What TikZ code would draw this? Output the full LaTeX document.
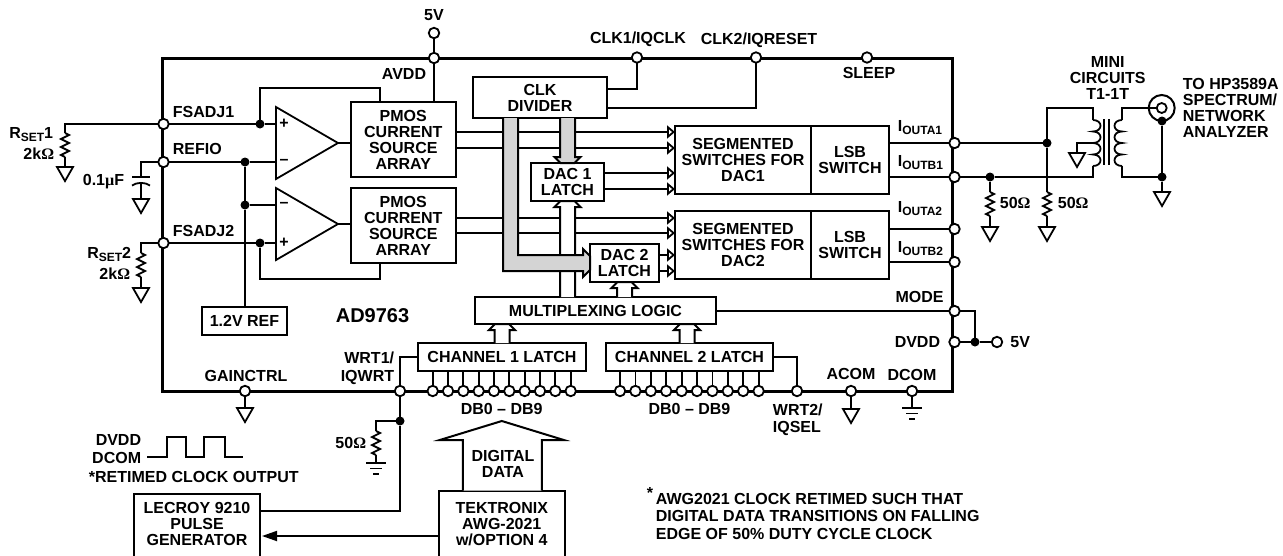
\documentclass[tikz,border=0pt]{standalone}
\usepackage{fontspec}
\setmainfont{Liberation Sans}
\newfontfamily\symf{Liberation Serif}
\usetikzlibrary{arrows.meta,calc}
\newcommand\busarrow[4]{% start, gap, direction (1 down, -1 up), style
  \draw[#4] (#1) ++(-7.5,0) -- ++(0,{#3*(#2-6)}) -- ++(-5.5,0) -- ++(6,{#3*6}) -- ++(14,0) -- ++(6,{-#3*6}) -- ++(-5.5,0) -- ++(0,{-#3*(#2-6)});
}
\newcommand\subt[1]{\raisebox{-3.2pt}{\fontsize{12}{12}\selectfont #1}}
\newcommand\ohm{{\symf Ω}}
\tikzset{
  lbl/.style={inner sep=0,font=\bfseries\fontsize{16}{16}\selectfont,align=center},
  lbll/.style={lbl,anchor=west,align=left},
  lblr/.style={lbl,anchor=east,align=right},
  lblbl/.style={lbl,anchor=base west,align=left},
  lblbr/.style={lbl,anchor=base east,align=right},
  bx/.style={draw,line width=2pt,inner sep=0,outer sep=0,fill=white,font=\bfseries\fontsize{16}{16}\selectfont,align=center},
  pinc/.style={circle,draw,fill=white,line width=1.8pt,minimum size=10.5pt,inner sep=0,outer sep=0},
  jdot/.style={circle,fill=black,minimum size=9pt,inner sep=0,outer sep=0},
  headw/.style={-{Triangle[open,length=8pt,width=13pt,line width=1.8pt]}},
  gbus/.style={draw=black,fill=black!17,line width=2pt},
  wbus/.style={draw=black,fill=white,line width=2pt},
  res/.pic={\draw (0,0) -- (4,2) -- (-4,6) -- (4,10) -- (-4,14) -- (4,18) -- (-4,22) -- (0,24);},
  gnd/.pic={\draw[fill=white] (-8,0) -- (8,0) -- (0,14) -- cycle;},
  earth/.pic={\draw (-10,0) -- (10,0) (-6,5.5) -- (6,5.5) (-3,11) -- (3,11);},
  coilr/.pic={\draw (0,0) foreach \k in {0,1,2,3} {.. controls (10,{\k*11.5}) and (10,{(\k+1)*11.5}) .. (0,{(\k+1)*11.5})};},
  coill/.pic={\draw (0,0) foreach \k in {0,1,2,3} {.. controls (-10,{\k*11.5}) and (-10,{(\k+1)*11.5}) .. (0,{(\k+1)*11.5})};}
}
\begin{document}
\begin{tikzpicture}[x=1pt,y=-1pt,line width=1.8pt,line join=miter]
\useasboundingbox (0,0) rectangle (1283,555);
% chip
\node[draw,line width=3pt,minimum width=790.4pt,minimum height=333pt,inner sep=0,outer sep=0] (chip) at (557.5,224.5) {};
% boxes
\node[bx,minimum width=104.7pt,minimum height=75pt] (pm1) at (403.3,139.5) {PMOS\\CURRENT\\SOURCE\\ARRAY};
\node[bx,minimum width=104.7pt,minimum height=75pt] (pm2) at (403.3,225.5) {PMOS\\CURRENT\\SOURCE\\ARRAY};
\node[bx,minimum width=134pt,minimum height=41pt] (clk) at (540,97.5) {CLK\\DIVIDER};
\node[bx,minimum width=73pt,minimum height=38pt] (lat1) at (567.5,182) {DAC 1\\LATCH};
\node[bx,minimum width=69pt,minimum height=38pt] (lat2) at (624.5,263) {DAC 2\\LATCH};
\node[bx,minimum width=136pt,minimum height=68pt] (seg1) at (743,160) {SEGMENTED\\SWITCHES FOR\\DAC1};
\node[bx,minimum width=78pt,minimum height=68pt] (lsb1) at (850,160) {LSB\\SWITCH};
\node[bx,minimum width=136pt,minimum height=68.6pt] (seg2) at (743,245) {SEGMENTED\\SWITCHES FOR\\DAC2};
\node[bx,minimum width=78pt,minimum height=68.6pt] (lsb2) at (850,245) {LSB\\SWITCH};
\node[bx,minimum width=241pt,minimum height=27pt] (mux) at (595.5,310.5) {MULTIPLEXING LOGIC};
\node[bx,minimum width=168pt,minimum height=28pt] (ch1) at (502,357) {CHANNEL 1 LATCH};
\node[bx,minimum width=167pt,minimum height=28pt] (ch2) at (689.5,357) {CHANNEL 2 LATCH};
\node[bx,minimum width=85pt,minimum height=28pt] (vref) at (244.5,321) {1.2V REF};
\node[bx,minimum width=126pt,minimum height=66pt] (lec) at (197,527) {};
\node[lbl] (lect) at (197,524) {LECROY 9210\\PULSE\\GENERATOR};
\node[bx,minimum width=125.7pt,minimum height=66pt] (tek) at (501.8,523.7) {TEKTRONIX\\AWG-2021\\w/OPTION 4};
% pins
\foreach \n/\x/\y in {fs1/163.5/124,refio/163.5/162,fs2/163.5/243,vtop/434/33,avdd/434/58,ck1/637/57.5,ck2/756/57.5,slp/867/57.5,oa1/954.5/143,ob1/954.5/177,oa2/954.5/229,ob2/954.5/262,mode/954.5/311,dvdd/954.5/342,vr/997/342,gain/245/391,wr1/400/391,wr2/797/391,acom/851/391,dcom/912/391}
  \node[pinc] (\n) at (\x,\y) {};
\foreach \i in {0,...,9}{
  \node[pinc] (da\i) at ({432.7+15.33*\i},391) {};
  \draw (da\i) -- (da\i |- ch1.south);
  \node[pinc] (db\i) at ({620+15.4*\i},391) {};
  \draw (db\i) -- (db\i |- ch2.south);
}
% junction dots
\foreach \n/\x/\y in {j1/260/124,j2/245/162,j3/245/205,j4/260/243,j5/975/342,j6/400/421,j7/1047/143,j8/990/177,j9/1162/121,j10/1162/177}
  \node[jdot] (\n) at (\x,\y) {};
% op amps
\coordinate (a1p) at (276,124); \coordinate (a1m) at (276,162); \coordinate (a1o) at (338,143);
\coordinate (a2m) at (276,205); \coordinate (a2p) at (276,243); \coordinate (a2o) at (338,224);
% wires left
\draw (fs1) -- (j1) -- (a1p);
\draw (refio) -- (j2) -- (a1m);
\draw (j2) -- (j3) -- (vref.north -| j3);
\draw (j3) -- (a2m);
\draw (fs2) -- (j4) -- (a2p);
\draw[fill=white] (a1o) -- (276,107) -- (276,179) -- cycle;
\draw[fill=white] (a2o) -- (276,188) -- (276,260) -- cycle;
\draw (a1o) -- (a1o -| pm1.west);
\draw (a2o) -- (a2o -| pm2.west);
\coordinate (fb1) at (380,88); \coordinate (fb2) at (380,279);
\draw (j1) -- (j1 |- fb1) -- (fb1) -- (fb1 |- pm1.north);
\draw (j4) -- (j4 |- fb2) -- (fb2) -- (fb2 |- pm2.south);
\node[lbl] (pl1) at (284,124) {+};
\node[lbl] (mi1) at (284,162) {–};
\node[lbl] (mi2) at (284,205) {–};
\node[lbl] (pl2) at (284,243) {+};
% external left
\coordinate (r1t) at (65,133); \coordinate (r1b) at (65,157); \coordinate (g1) at (65,167);
\draw (fs1) -- (fs1 -| r1t) -- (r1t); \pic at (r1t) {res}; \draw (r1b) -- (g1); \pic at (g1) {gnd};
\coordinate (c1) at (141,177); \coordinate (c2) at (141,183); \coordinate (g2) at (141,199);
\draw (refio) -- (refio -| c1) -- (c1);
\draw (132,177) -- (150,177);
\draw (132,185.5) .. controls (137,182) and (145,182) .. (150,185.5);
\draw (c2) -- (g2); \pic at (g2) {gnd};
\coordinate (r2t) at (141,253); \coordinate (r2b) at (141,277); \coordinate (g3) at (141,288);
\draw (fs2) -- (fs2 -| r2t) -- (r2t); \pic at (r2t) {res}; \draw (r2b) -- (g3); \pic at (g3) {gnd};
% power, clk
\draw (vtop) -- (avdd) -- (avdd |- pm1.north);
\draw ([yshift=8.5pt]clk.east) -| (ck1);
\draw ([yshift=-10.5pt]clk.east) -| (ck2);
% signal arrows
\draw[headw] ([yshift=7.5pt]pm1.east) -- ([yshift=7.5pt]pm1.east -| seg1.west);
\draw[headw] ([yshift=-8.5pt]pm1.east) -- ([yshift=-8.5pt]pm1.east -| seg1.west);
\draw[headw] ([yshift=7.5pt]pm2.east) -- ([yshift=7.5pt]pm2.east -| seg2.west);
\draw[headw] ([yshift=-7.5pt]pm2.east) -- ([yshift=-7.5pt]pm2.east -| seg2.west);
\draw[headw] ([yshift=9pt]lat1.east) -- ([yshift=9pt]lat1.east -| seg1.west);
\draw[headw] ([yshift=-7pt]lat1.east) -- ([yshift=-7pt]lat1.east -| seg1.west);
\draw[headw] ([yshift=8pt]lat2.east) -- ([yshift=8pt]lat2.east -| seg2.west);
\draw[headw] ([yshift=-8pt]lat2.east) -- ([yshift=-8pt]lat2.east -| seg2.west);
% buses
\busarrow{lat1.south |- mux.north}{96}{-1}{wbus}
\busarrow{lat1.north |- clk.south}{45}{1}{gbus}
\coordinate (gi) at ([yshift=8pt]lat2.west);
\coordinate (go) at ([yshift=-8pt]lat2.west);
\coordinate (p0) at ([xshift=-37pt]clk.south);
\coordinate (p1) at ([xshift=-22pt]clk.south);
\draw[gbus] (p0) -- (p0 |- go) -- ($(go)+(-7,0)$) -- ++(0,6) -- ($(go)+(0,-1)$) -- ($(gi)+(0,1)$) -- ++(-7,-7) -- ++(0,6) -- (p1 |- gi) -- (p1);
\busarrow{lat2.south |- mux.north}{15}{-1}{wbus}
\busarrow{ch1.north}{19}{-1}{wbus}
\busarrow{[xshift=-2.5pt]ch2.north}{19}{-1}{wbus}
% right side inside chip
\draw (lsb1.east |- oa1) -- (oa1);
\draw (lsb1.east |- ob1) -- (ob1);
\draw (lsb2.east |- oa2) -- (oa2);
\draw (lsb2.east |- ob2) -- (ob2);
\draw (mux.east |- mode) -- (mode);
\draw (mode) -| (j5);
\draw (dvdd) -- (j5) -- (vr);
% bottom
\draw (ch1.west) -| (wr1);
\draw (ch2.east) -| (wr2);
\coordinate (g4) at (245,408); \draw (gain) -- (g4); \pic at (g4) {gnd};
\coordinate (g5) at (851,409); \draw (acom) -- (g5); \pic at (g5) {gnd};
\coordinate (g6) at (912,408); \draw (dcom) -- (g6); \pic at (g6) {earth};
\draw (wr1) -- (j6);
\draw ([yshift=16pt]lec.east) -| (j6);
\coordinate (r3t) at (376,431); \coordinate (r3b) at (376,455); \coordinate (g7) at (376,463);
\draw (j6) -- (j6 -| r3t) -- (r3t); \pic at (r3t) {res}; \draw (r3b) -- (g7); \pic at (g7) {earth};
\draw[-{Triangle[length=15pt,width=10pt]},shorten >=2pt] ([yshift=-12.3pt]tek.west) -- ([yshift=-12.3pt]tek.west -| lec.east);
\draw[wbus] ([xshift=-39pt]tek.north) -- ++(0,-50.7) -- ++(-23,0) -- ++(62,-19) -- ++(62,19) -- ++(-22,0) -- ++(0,50.7);
\draw[line width=2.2pt] (147,457) -- (167,457) -- (167,437) -- (186,437) -- (186,457) -- (204,457) -- (204,437) -- (225,437) -- (225,457) -- (243,457);
% transformer
\coordinate (tl) at (1093,108); \coordinate (tlc) at (1093,120); \coordinate (bl) at (1093,166);
\coordinate (tr) at (1122,108); \coordinate (trc) at (1122,120); \coordinate (br) at (1122,166);
\node[circle,draw,minimum size=26pt,inner sep=0,line width=2pt] (cxo) at (1161.7,108) {};
\node[circle,draw,minimum size=10pt,inner sep=0,line width=1.8pt] (cxi) at (1161.7,108) {};
\draw (oa1) -- (j7);
\draw (ob1) -- (j8) -- (ob1 -| bl) -- (bl);
\draw (j7) -- (j7 |- tl) -- (tl) -- (tlc); \pic at (tlc) {coilr};
\coordinate (r4t) at (1047,192); \coordinate (r4b) at (1047,216); \coordinate (g8) at (1047,227);
\draw (j7) -- (r4t); \pic at (r4t) {res}; \draw (r4b) -- (g8); \pic at (g8) {gnd};
\coordinate (r5t) at (990,192); \coordinate (r5b) at (990,216); \coordinate (g9) at (990,227);
\draw (j8) -- (r5t); \pic at (r5t) {res}; \draw (r5b) -- (g9); \pic at (g9) {gnd};
\coordinate (tap) at (1077,143); \coordinate (g10) at (1077,153);
\draw (1093,143) -- (tap) -- (g10); \pic at (g10) {gnd};
\draw (1104,119) -- (1104,165) (1109,119) -- (1109,165);
\draw (cxi) -- (tr) -- (trc); \pic at (trc) {coill};
\draw (br) -- (br |- j10) -- (j10);
\draw (j9) -- (j10);
\coordinate (g11) at (1162,192); \draw (j10) -- (g11); \pic at (g11) {gnd};
% labels
\node[lbll] (tfs1) at (172,112) {FSADJ1};
\node[lbll] (trefio) at (172,149) {REFIO};
\node[lbll] (tfs2) at (172,231) {FSADJ2};
\node[lblr] (tavdd) at (427,74) {AVDD};
\node[lbl] (t5v) at (434,15) {5V};
\node[lbl] (tck1) at (638,39) {CLK1/IQCLK};
\node[lbl] (tck2) at (759,40) {CLK2/IQRESET};
\node[lbl] (tslp) at (869,73) {SLEEP};
\node[lblbl] (ta1) at (897,131) {I\subt{OUTA1}};
\node[lblbl] (tb1) at (897,166) {I\subt{OUTB1}};
\node[lblbl] (ta2) at (897,212) {I\subt{OUTA2}};
\node[lblbl] (tb2) at (897,252) {I\subt{OUTB2}};
\node[lblbr] (tr1) at (54,138.5) {R\subt{SET}1};
\node[lblbr] (tr1v) at (55,159) {2k\ohm};
\node[lblr] (tc) at (125,182) {0.1{\symf µ}F};
\node[lblbr] (tr2) at (132,258) {R\subt{SET}2};
\node[lblbr] (tr2v) at (131,279) {2k\ohm};
\node[lbl] (tgain) at (246,376) {GAINCTRL};
\node[lblr] (twr1) at (395,368) {WRT1/\\[2pt]IQWRT};
\node[lbll] (twr2) at (772,420) {WRT2/\\[1pt]IQSEL};
\node[lblr] (tmode) at (944.5,297) {MODE};
\node[lblr] (tdvdd) at (941,342) {DVDD};
\node[lbll] (t5vr) at (1009.5,342) {5V};
\node[lbl] (tacom) at (851,374) {ACOM};
\node[lbl] (tdcom) at (912,375) {DCOM};
\node[lbl] (tdb1) at (501.7,409) {DB0 – DB9};
\node[lbl] (tdb2) at (689.5,409) {DB0 – DB9};
\node[lbl,font=\bfseries\fontsize{20}{20}\selectfont] (tad) at (372.5,316) {AD9763};
\node[lbl] (tdig) at (503,464) {DIGITAL\\DATA};
\node[lblr] (tdv) at (142,440) {DVDD};
\node[lblr] (tdc) at (142,458) {DCOM};
\node[lbll] (tret) at (88,477) {*RETIMED CLOCK OUTPUT};
\node[lbll] (tfn) at (655,516) {AWG2021 CLOCK RETIMED SUCH THAT\\[1.5pt]DIGITAL DATA TRANSITIONS ON FALLING\\[1.5pt]EDGE OF 50\% DUTY CYCLE CLOCK};
\node[lbl] (tstar) at (650,493) {*};
\node[lbll] (t50a) at (999,203) {50\ohm};
\node[lbll] (t50b) at (1057,203) {50\ohm};
\node[lblr] (t50c) at (367,443) {50\ohm};
\node[lbl] (tmini) at (1107.7,78) {MINI\\CIRCUITS\\T1-1T};
\node[lbll] (tto) at (1182,108) {TO HP3589A\\SPECTRUM/\\NETWORK\\ANALYZER};
\end{tikzpicture}
\end{document}
